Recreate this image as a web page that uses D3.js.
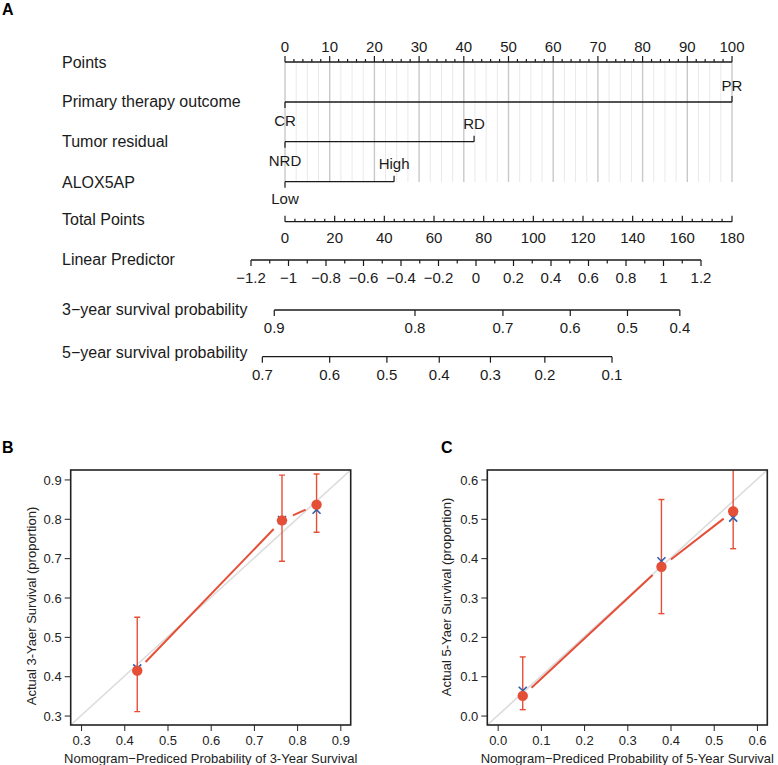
<!DOCTYPE html>
<html><head><meta charset="utf-8">
<script src="https://cdn.jsdelivr.net/npm/d3@7"></script>
<style>body{margin:0;background:#fff} svg{font-family:"Liberation Sans",Arial,Helvetica,sans-serif}</style>
</head><body><svg id="c" width="778" height="765"></svg>
<script>
// ---------- data ----------
const rowNames = ["Points","Primary therapy outcome","Tumor residual","ALOX5AP","Total Points","Linear Predictor","3\u2212year survival probability","5\u2212year survival probability"];
const pointsTicks = [0,10,20,30,40,50,60,70,80,90,100];
const totalTicks = [0,20,40,60,80,100,120,140,160,180];
const lpTicks = [-1.2,-1,-0.8,-0.6,-0.4,-0.2,0,0.2,0.4,0.6,0.8,1,1.2];
const surv3Ticks = [0.9,0.8,0.7,0.6,0.5,0.4];
const surv5Ticks = [0.7,0.6,0.5,0.4,0.3,0.2,0.1];
const baseSurv3 = 0.7342, baseSurv5 = 0.328;
const therapyLevels = ["CR","PR"], therapyPoints = [0,100];
const residualLevels = ["NRD","RD"], residualPoints = [0,42.3];
const aloxLevels = ["Low","High"], aloxPoints = [0,24.4];

const cal3Pred = [0.430,0.765,0.845];
const cal3Obs  = [0.414,0.796,0.836];
const cal3Lo   = [0.310,0.692,0.766];
const cal3Hi   = [0.550,0.911,0.914];
const cal3Corr = [0.420,0.797,0.823];
const cal3Ticks = [0.3,0.4,0.5,0.6,0.7,0.8,0.9];

const cal5Pred = [0.058,0.379,0.545];
const cal5Obs  = [0.050,0.378,0.519];
const cal5Lo   = [0.015,0.259,0.424];
const cal5Hi   = [0.149,0.549,0.650];
const cal5Corr = [0.063,0.392,0.503];
const cal5Ticks = [0.0,0.1,0.2,0.3,0.4,0.5,0.6];

// ---------- drawing ----------
const svg = d3.select("#c");
const ink = "#1a1a1a";
const red = "#e64f37", blue = "#2c5fae";

svg.append("text").attr("x",2).attr("y",15).attr("font-size",16).attr("font-weight","bold").text("A");

const xPts = d3.scaleLinear([0,100],[285,732]);
const xTot = d3.scaleLinear([0,180],[285,732]);
const xLP  = d3.scaleLinear([-1.2,1.2],[251,701]);
const survX = (s,s0) => xLP(Math.log(Math.log(s)/Math.log(s0)));

const rowY = [68,106.5,146.5,188,225,265,315,358];
rowNames.forEach((n,i)=>svg.append("text").attr("x",62).attr("y",rowY[i]).attr("font-size",16).attr("fill",ink).text(n));

// grid lines
const grid = d3.range(0,100.01,2.5);
svg.append("g").selectAll("line").data(grid).join("line")
  .attr("x1",d=>xPts(d)).attr("x2",d=>xPts(d)).attr("y1",62).attr("y2",182)
  .attr("stroke",d=>d%10===0?"#c9c9c9":"#e9e9e9").attr("stroke-width",d=>d%10===0?1.4:1);

function hline(x1,x2,y){svg.append("line").attr("x1",x1).attr("x2",x2).attr("y1",y).attr("y2",y).attr("stroke",ink).attr("stroke-width",1.3);}
function ticks(xs,y,len){svg.append("g").selectAll("line").data(xs).join("line")
  .attr("x1",d=>d).attr("x2",d=>d).attr("y1",y).attr("y2",y+len).attr("stroke",ink).attr("stroke-width",1.2);}
function labels(xs,txt,y,fs){svg.append("g").selectAll("text").data(xs).join("text")
  .attr("x",d=>d).attr("y",y).attr("text-anchor","middle").attr("font-size",fs).attr("fill",ink).text((d,i)=>txt[i]);}

// Points axis
const yP = 62;
hline(xPts(0),xPts(100),yP);
ticks(d3.range(0,100.01,2).filter(d=>d%10!==0).map(xPts),yP,-3);
ticks(pointsTicks.map(xPts),yP,-6);
labels(pointsTicks.map(xPts),pointsTicks.map(String),52.4,15);

// categorical rows
function catRow(levels,pts,y,labYs){
  hline(xPts(pts[0]),xPts(pts[1]),y);
  ticks([xPts(pts[0])],y,6);
  ticks([xPts(pts[1])],y,-6);
  svg.append("text").attr("x",xPts(pts[0])).attr("y",labYs[0]).attr("text-anchor","middle").attr("font-size",15).attr("fill",ink).text(levels[0]);
  svg.append("text").attr("x",xPts(pts[1])).attr("y",labYs[1]).attr("text-anchor","middle").attr("font-size",15).attr("fill",ink).text(levels[1]);
}
catRow(therapyLevels,therapyPoints,102,[125.7,90.7]);
catRow(residualLevels,residualPoints,141.7,[165.7,129]);
catRow(aloxLevels,aloxPoints,181.7,[204,169]);

// Total points
const yT = 221.7;
hline(xTot(0),xTot(180),yT);
ticks(d3.range(0,180.01,4).filter(d=>d%20!==0).map(xTot),yT,-3);
ticks(totalTicks.map(xTot),yT,-6);
labels(totalTicks.map(xTot),totalTicks.map(String),243.4,15);

// Linear predictor
const yL = 260;
hline(xLP(-1.2),xLP(1.2),yL);
ticks(d3.range(-11,12,2).map(d=>xLP(d/10)),yL,3.5);
ticks(lpTicks.map(xLP),yL,6);
labels(lpTicks.map(xLP),lpTicks.map(d=>d3.format("~g")(d).replace("-","\u2212")),283.4,15);

// Survival rows
const y3 = 310;
hline(survX(0.9,baseSurv3),survX(0.4,baseSurv3),y3);
ticks(surv3Ticks.map(s=>survX(s,baseSurv3)),y3,6);
labels(surv3Ticks.map(s=>survX(s,baseSurv3)),surv3Ticks.map(d=>d.toFixed(1)),333.4,15);

const y5 = 356.7;
hline(survX(0.7,baseSurv5),survX(0.1,baseSurv5),y5);
ticks(surv5Ticks.map(s=>survX(s,baseSurv5)),y5,6);
labels(surv5Ticks.map(s=>survX(s,baseSurv5)),surv5Ticks.map(d=>d.toFixed(1)),380,15);

// ---------- calibration panels ----------
function calPanel(o){
  const {left,top,right,bottom,dom,tk,pred,obs,lo,hi,corr,xTitle,yTitle,yTitleX,yTitleY,letter,letterX,id} = o;
  const x = d3.scaleLinear(dom,[left,right]);
  const y = d3.scaleLinear(dom,[bottom,top]);
  const g = svg.append("g");
  g.append("text").attr("x",letterX).attr("y",453).attr("font-size",16).attr("font-weight","bold").text(letter);
  const clip = svg.append("clipPath").attr("id",id).append("rect").attr("x",left).attr("y",top).attr("width",right-left).attr("height",bottom-top);
  const pg = g.append("g").attr("clip-path",`url(#${id})`);
  // ideal line
  pg.append("line").attr("x1",x(dom[0])).attr("y1",y(dom[0])).attr("x2",x(dom[1])).attr("y2",y(dom[1]))
    .attr("stroke","#dcdcdc").attr("stroke-width",1.6);
  // connecting line with gaps
  const gap = 12;
  for(let i=0;i<pred.length-1;i++){
    const x1=x(pred[i]),y1=y(obs[i]),x2=x(pred[i+1]),y2=y(obs[i+1]);
    const L=Math.hypot(x2-x1,y2-y1),ux=(x2-x1)/L,uy=(y2-y1)/L;
    pg.append("line").attr("x1",x1+ux*gap).attr("y1",y1+uy*gap).attr("x2",x2-ux*gap).attr("y2",y2-uy*gap)
      .attr("stroke",red).attr("stroke-width",2);
  }
  // error bars
  pred.forEach((p,i)=>{
    pg.append("line").attr("x1",x(p)).attr("x2",x(p)).attr("y1",y(lo[i])).attr("y2",y(hi[i])).attr("stroke",red).attr("stroke-width",1.4);
    [lo[i],hi[i]].forEach(v=>pg.append("line").attr("x1",x(p)-3).attr("x2",x(p)+3).attr("y1",y(v)).attr("y2",y(v)).attr("stroke",red).attr("stroke-width",1.4));
  });
  // blue x (bias corrected)
  pred.forEach((p,i)=>{
    const cx=x(p),cy=y(corr[i]),s=4;
    pg.append("path").attr("d",`M${cx-s},${cy-s}L${cx+s},${cy+s}M${cx-s},${cy+s}L${cx+s},${cy-s}`).attr("stroke",blue).attr("stroke-width",1.6).attr("fill","none");
  });
  // dots
  pg.selectAll("circle").data(pred).join("circle").attr("cx",d=>x(d)).attr("cy",(d,i)=>y(obs[i])).attr("r",5.2).attr("fill",red);
  // box
  g.append("rect").attr("x",left).attr("y",top).attr("width",right-left).attr("height",bottom-top).attr("fill","none").attr("stroke","#222").attr("stroke-width",1.6);
  // axes
  const ax = g.append("g").attr("transform",`translate(0,${bottom})`).call(d3.axisBottom(x).tickValues(tk).tickSize(6).tickFormat(d3.format(".1f")));
  ax.select(".domain").remove();
  ax.selectAll("text").attr("font-size",13).attr("fill","#222").attr("dy",0).attr("y",20).attr("font-family",null);
  ax.selectAll("line").attr("stroke","#222");
  const ay = g.append("g").attr("transform",`translate(${left},0)`).call(d3.axisLeft(y).tickValues(tk).tickSize(6).tickFormat(d3.format(".1f")));
  ay.select(".domain").remove();
  ay.selectAll("text").attr("font-size",13).attr("fill","#222").attr("x",-9).attr("dy","0.35em").attr("font-family",null);
  ay.selectAll("line").attr("stroke","#222");
  g.append("text").attr("x",(left+right)/2).attr("y",763).attr("text-anchor","middle").attr("font-size",13).attr("fill","#222").text(xTitle);
  g.append("text").attr("transform",`translate(${yTitleX},${yTitleY}) rotate(-90)`).attr("text-anchor","middle").attr("dy","0.35em").attr("font-size",13).attr("fill","#222").text(yTitle);
}

calPanel({left:70.7,top:470,right:350.7,bottom:725,dom:[0.276,0.924],tk:cal3Ticks,
  pred:cal3Pred,obs:cal3Obs,lo:cal3Lo,hi:cal3Hi,corr:cal3Corr,
  xTitle:"Nomogram\u2212Prediced Probability of 3-Year Survival",yTitle:"Actual 3-Yaer Survival (proportion)",
  yTitleX:31,yTitleY:606,letter:"B",letterX:2,id:"clipB"});
calPanel({left:487.3,top:470,right:767.3,bottom:725,dom:[-0.024,0.624],tk:cal5Ticks,
  pred:cal5Pred,obs:cal5Obs,lo:cal5Lo,hi:cal5Hi,corr:cal5Corr,
  xTitle:"Nomogram\u2212Prediced Probability of 5-Year Survival",yTitle:"Actual 5-Yaer Survival (proportion)",
  yTitleX:446,yTitleY:597,letter:"C",letterX:441,id:"clipC"});
</script></body></html>
